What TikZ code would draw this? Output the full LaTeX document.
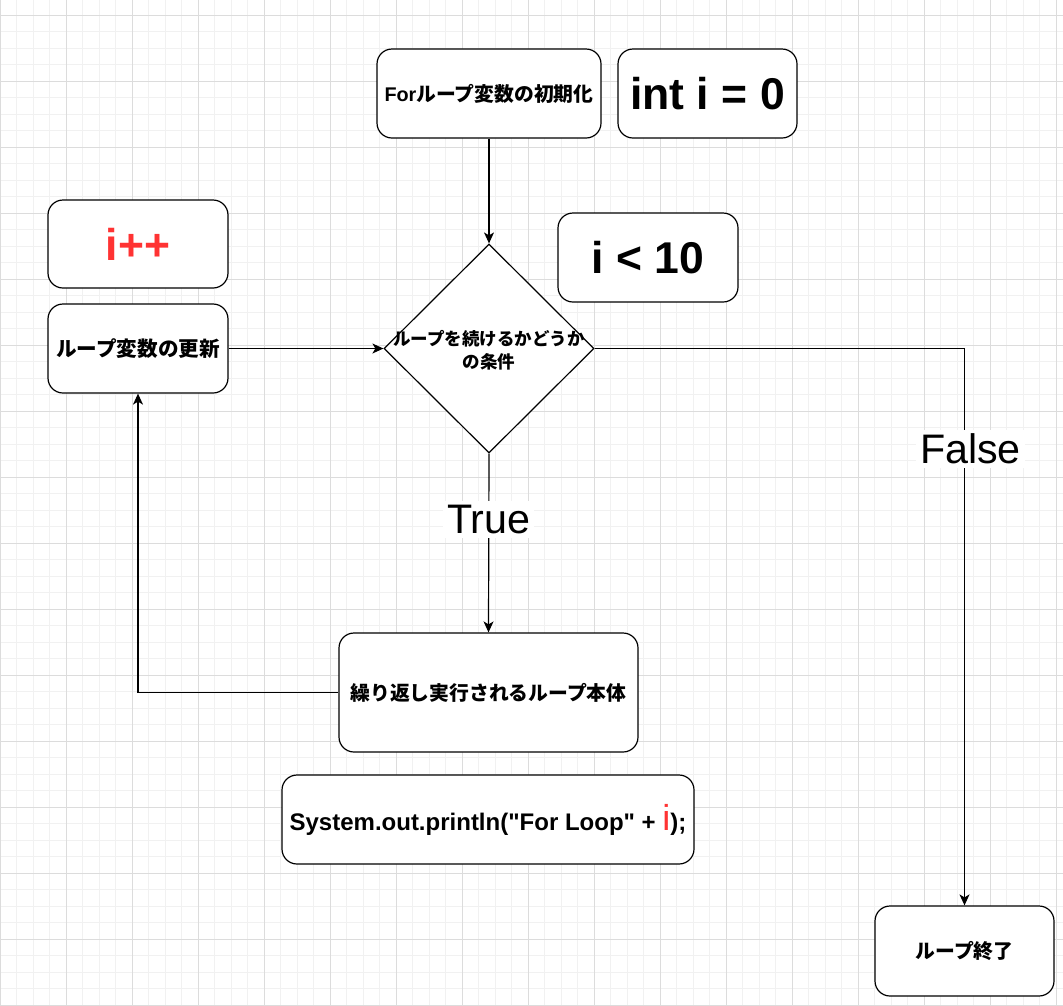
\documentclass[tikz,border=0pt]{standalone}
\usepackage{fontspec}
\setmainfont{Liberation Sans}[Ligatures=TeXOff]
\newfontfamily\cjkfont{Noto Sans CJK JP}
\usetikzlibrary{shapes.geometric,arrows.meta}
\definecolor{dred}{HTML}{FF3333}
\definecolor{gminor}{HTML}{F1F1F1}
\definecolor{gmajor}{HTML}{DCDCDC}
\newcommand\fsz[1]{\fontsize{#1}{#1}\selectfont}
\begin{document}
\begin{tikzpicture}[x=1pt,y=-1pt,
  box/.style={draw, line width=1.2pt, rounded corners=15pt, fill=white, inner sep=0pt, align=center},
  jptext/.style={font=\cjkfont\bfseries\fsz{19.8}},
  bigtext/.style={font=\bfseries\fsz{44.5}},
  arr/.style={line width=1.2pt, -{Stealth[length=11pt,width=10pt,inset=3pt]}},
  lbl/.style={fill=white, font=\fsz{41.25}, inner sep=4pt}]
\useasboundingbox (0,0) rectangle (1063,1005);
\fill[white] (0,0) rectangle (1063,1005);
% grid
\foreach \i in {0,...,64} \draw[gminor, line width=1pt] (\i*16.5,0) -- (\i*16.5,1005);
\foreach \j in {0,...,60} \draw[gminor, line width=1pt] (0,15+\j*16.5) -- (1063,15+\j*16.5);
\foreach \i in {0,...,16} \draw[gmajor, line width=1pt] (\i*66,0) -- (\i*66,1005);
\foreach \j in {0,...,15} \draw[gmajor, line width=1pt] (0,15+\j*66) -- (1063,15+\j*66);
% nodes
\node[box, minimum width=224pt, minimum height=89pt, jptext] (init) at (489,93.5) {{\rmfamily For}ループ変数の初期化};
\node[box, minimum width=179pt, minimum height=89pt, bigtext] (intv) at (707.5,93.5) {int i = 0};
\node[box, minimum width=180pt, minimum height=88pt, bigtext, text=dred] (ipp) at (138,244) {i++};
\node[box, minimum width=180pt, minimum height=89pt, jptext, font=\cjkfont\bfseries\fsz{20.6}] (upd) at (138,348.5) {ループ変数の更新};
\node[draw, diamond, line width=1.2pt, fill=white, minimum width=210pt, minimum height=209pt, inner sep=0pt] (cond) at (489,348.5) {};
\node[font=\cjkfont\bfseries\fsz{17.5}, align=center, inner sep=0pt] (condtext) at (489,350) {ループを続けるかどうか\\[5pt]の条件};
\node[box, minimum width=180pt, minimum height=89pt, bigtext] (ilt) at (648,257.5) {i < 10};
\node[box, minimum width=299pt, minimum height=119pt, jptext] (body) at (488.5,692.5) {繰り返し実行されるループ本体};
\node[box, minimum width=412pt, minimum height=89pt, font=\bfseries\fsz{24}] (sysout) at (488,819.5) {System.out.println("For Loop" + {\mdseries\fsz{36}\color{dred}i});};
\node[box, minimum width=179pt, minimum height=90pt, jptext] (endn) at (964.5,951) {ループ終了};
% connectors
\draw[arr] (init.south) -- (cond.north);
\draw[arr] (upd.east) -- (cond.west);
\draw[arr] (cond.south) -- node[lbl, pos=0.37] (truel) {True} (body.north);
\draw[arr] (body.west) -| (upd.south);
\draw[arr] (cond.east) -| node[lbl, pos=0.59, xshift=6pt] (falsel) {False} (endn.north);
\end{tikzpicture}
\end{document}
